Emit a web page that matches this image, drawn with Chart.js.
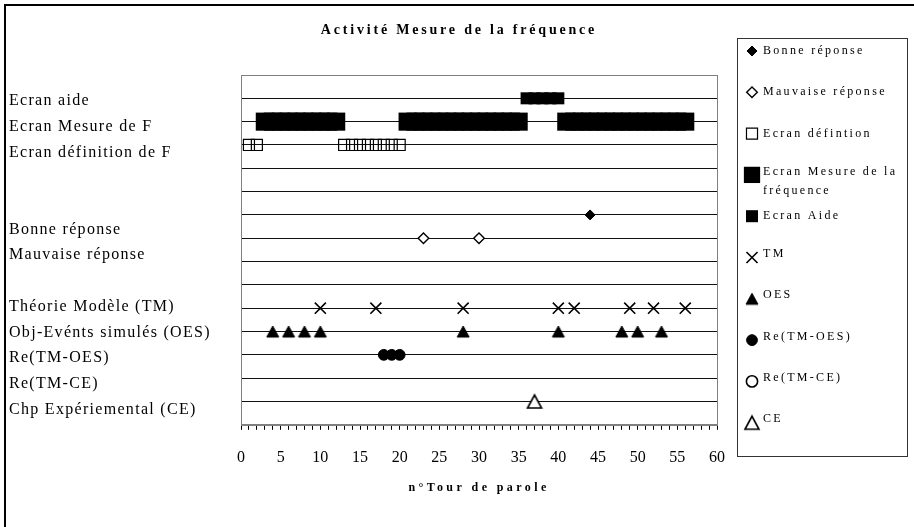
<!DOCTYPE html>
<html>
<head>
  <title>Activité Mesure de la fréquence</title>
  <script src="https://cdn.jsdelivr.net/npm/chart.js"></script>
  <style>
    body { margin: 0; background: #fff; }
  </style>
</head>
<body>
  <canvas id="chart" width="914" height="527"></canvas>

  <script>
    // n° tour de parole where each event happens
    const bonneReponse = [44];
    const mauvaiseReponse = [23, 30];
    const ecranDefinition = [1, 2, 13, 14, 15, 16, 17, 18, 19, 20];
    const ecranMesure = [3, 4, 5, 6, 7, 8, 9, 10, 11, 12,
                         21, 22, 23, 24, 25, 26, 27, 28, 29, 30, 31, 32, 33, 34, 35,
                         41, 42, 43, 44, 45, 46, 47, 48, 49, 50, 51, 52, 53, 54, 55, 56];
    const ecranAide = [36, 37, 38, 39, 40];
    const tm = [10, 17, 28, 40, 42, 49, 52, 56];
    const oes = [4, 6, 8, 10, 28, 40, 48, 50, 53];
    const reTmOes = [18, 19, 20];
    const reTmCe = [];
    const ce = [37];

    const seriesValues = [bonneReponse, mauvaiseReponse, ecranDefinition, ecranMesure, ecranAide,
                          tm, oes, reTmOes, reTmCe, ce];
    // row (y value) of each series
    const seriesRows = [9, 8, 12, 13, 14, 5, 4, 3, 2, 1];
    const legendLabels = ['Bonne réponse', 'Mauvaise réponse', 'Ecran défintion',
                          ['Ecran Mesure de la', 'fréquence'], 'Ecran Aide',
                          'TM', 'OES', 'Re(TM-OES)', 'Re(TM-CE)', 'CE'];
    const rowLabels = ['Ecran aide', 'Ecran Mesure de F', 'Ecran définition de F', '', '',
                       'Bonne réponse', 'Mauvaise réponse', '',
                       'Théorie Modèle (TM)', 'Obj-Evénts simulés (OES)', 'Re(TM-OES)',
                       'Re(TM-CE)', 'Chp Expériemental (CE)'];
    const xTickLabels = [0, 5, 10, 15, 20, 25, 30, 35, 40, 45, 50, 55, 60];

    // triangle centred on its box (Excel style) instead of on its circumcentre
    function triangle(w, h, fill, lw) {
      const c = document.createElement('canvas');
      c.width = w + 4;
      c.height = h + 4;
      const g = c.getContext('2d');
      g.beginPath();
      g.moveTo(2, h + 2);
      g.lineTo(w / 2 + 2, 2);
      g.lineTo(w + 2, h + 2);
      g.closePath();
      g.fillStyle = fill;
      g.fill();
      g.lineWidth = lw;
      g.strokeStyle = '#000';
      g.stroke();
      return c;
    }

    const markerStyles = [
      { pointStyle: 'rectRot', radius: 5, fill: '#000', border: 1 },
      { pointStyle: 'rectRot', radius: 5.3, fill: '#fff', border: 1.4 },
      { pointStyle: 'rect', radius: 7.8, fill: 'rgba(0,0,0,0)', border: 1.2 },
      { pointStyle: 'rect', radius: 12.8, fill: '#000', border: 0 },
      { pointStyle: 'rect', radius: 8.5, fill: '#000', border: 0 },
      { pointStyle: 'crossRot', radius: 7.8, fill: '#000', border: 1.6 },
      { pointStyle: triangle(12, 11, '#000', 1), radius: 7, fill: '#000', border: 1 },
      { pointStyle: 'circle', radius: 5.4, fill: '#000', border: 1 },
      { pointStyle: 'circle', radius: 5.6, fill: '#fff', border: 1.6 },
      { pointStyle: triangle(14, 13, '#fff', 1.6), radius: 8, fill: '#fff', border: 1.6 }
    ];

    const datasets = seriesValues.map((vals, i) => ({
      label: Array.isArray(legendLabels[i]) ? legendLabels[i].join(' ') : legendLabels[i],
      data: vals.map(x => ({ x: x, y: seriesRows[i] })),
      pointStyle: markerStyles[i].pointStyle,
      pointRadius: markerStyles[i].radius,
      pointHoverRadius: markerStyles[i].radius,
      pointBackgroundColor: markerStyles[i].fill,
      pointBorderColor: '#000',
      pointBorderWidth: markerStyles[i].border,
      showLine: false,
      clip: false
    }));

    function spacedText(ctx, text, x, y, font, spacing, align) {
      ctx.font = font;
      ctx.letterSpacing = spacing + 'px';
      ctx.textAlign = align;
      ctx.textBaseline = 'middle';
      ctx.fillStyle = '#000';
      ctx.fillText(text, x, y);
    }

    const decor = {
      id: 'decor',
      beforeDraw(chart) {
        const ctx = chart.ctx;
        ctx.save();
        ctx.fillStyle = '#fff';
        ctx.fillRect(0, 0, chart.width, chart.height);
        ctx.strokeStyle = '#000';
        ctx.lineWidth = 2;
        ctx.beginPath();
        ctx.moveTo(5, chart.height + 5);
        ctx.lineTo(5, 5);
        ctx.lineTo(chart.width + 5, 5);
        ctx.stroke();
        ctx.restore();
      },
      beforeDatasetsDraw(chart) {
        const ctx = chart.ctx, a = chart.chartArea;
        ctx.save();
        ctx.strokeStyle = '#808080';
        ctx.lineWidth = 1;
        ctx.strokeRect(Math.round(a.left) + 0.5, Math.round(a.top) + 0.5,
                       Math.round(a.right - a.left), Math.round(a.bottom - a.top));
        ctx.restore();
      },
      afterDraw(chart) {
        const ctx = chart.ctx, a = chart.chartArea;
        ctx.save();
        // title
        spacedText(ctx, 'Activité Mesure de la fréquence', 459, 30, 'bold 14px "Liberation Serif"', 2.8, 'center');
        // row labels on the left
        rowLabels.forEach((t, k) => {
          if (t) spacedText(ctx, t, 9, 101 + k * 25.7, '16px "Liberation Serif"', 1.3, 'left');
        });
        // x axis title
        spacedText(ctx, 'n°Tour de parole', (a.left + a.right) / 2, 488, 'bold 12px "Liberation Serif"', 3.4, 'center');

        // legend box
        ctx.letterSpacing = '0px';
        ctx.strokeStyle = '#333';
        ctx.lineWidth = 1;
        ctx.strokeRect(737.5, 38.5, 170, 418);
        legendLabels.forEach((lab, i) => {
          const y = 51 + i * 41.3;
          const s = markerStyles[i];
          ctx.save();
          ctx.fillStyle = s.fill;
          ctx.strokeStyle = '#000';
          ctx.lineWidth = s.border;
          Chart.helpers.drawPoint(ctx, {
            pointStyle: s.pointStyle,
            radius: Math.min(s.radius, 11.5),
            rotation: 0,
            borderWidth: s.border
          }, 752, y);
          ctx.restore();
          const off = i >= 5 ? -3.5 : 0;
          const f = '12px "Liberation Serif"';
          if (Array.isArray(lab)) {
            spacedText(ctx, lab[0], 763, y - 3, f, 2.3, 'left');
            spacedText(ctx, lab[1], 763, y + 16, f, 2.3, 'left');
          } else {
            spacedText(ctx, lab, 763, y + off, f, 2.3, 'left');
          }
        });
        ctx.restore();
      }
    };

    const chart = new Chart(document.getElementById('chart').getContext('2d'), {
      type: 'scatter',
      data: { datasets: datasets },
      plugins: [decor],
      options: {
        responsive: false,
        devicePixelRatio: 1,
        animation: false,
        events: [],
        layout: { padding: { left: 241, right: 197, top: 75, bottom: 42 } },
        plugins: {
          legend: { display: false },
          title: { display: false },
          tooltip: { enabled: false }
        },
        scales: {
          x: {
            type: 'linear',
            min: 0,
            max: 60,
            ticks: {
              stepSize: 1,
              autoSkip: false,
              maxRotation: 0,
              minRotation: 0,
              padding: 18,
              color: '#000',
              font: { family: '"Liberation Serif"', size: 16 },
              callback: v => xTickLabels.includes(v) ? String(v) : ''
            },
            grid: {
              drawOnChartArea: false,
              drawTicks: true,
              tickLength: 5,
              tickColor: '#000'
            },
            border: { color: '#808080' }
          },
          y: {
            min: 0,
            max: 15,
            ticks: { stepSize: 1, display: false },
            grid: {
              drawTicks: false,
              color: c => (c.tick && (c.tick.value === 0 || c.tick.value === 15)) ? '#808080' : '#111'
            },
            border: { color: '#808080' }
          }
        }
      }
    });
  </script>
</body>
</html>
